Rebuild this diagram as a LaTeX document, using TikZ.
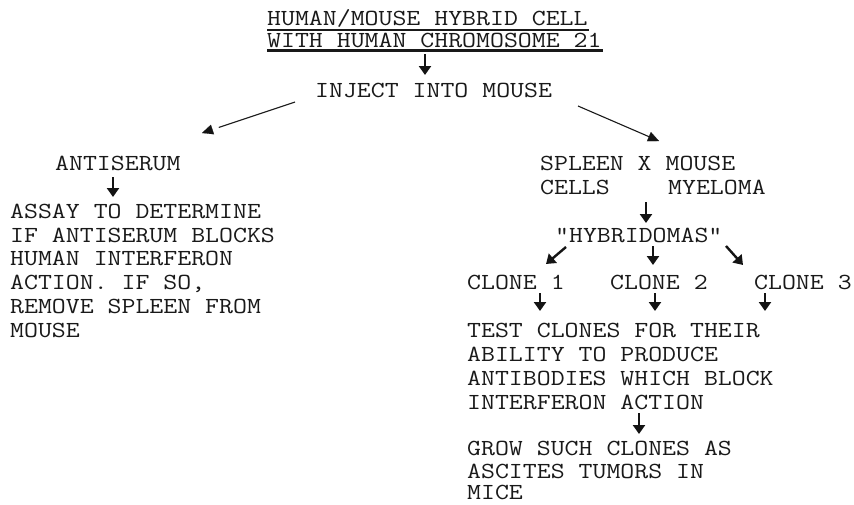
\documentclass[tikz,border=0pt]{standalone}
\usepackage{fontspec}
\newfontfamily\twfont{Latin Modern Mono}[FakeStretch=1.176]
\usetikzlibrary{arrows.meta,calc}
\tikzset{
  txt/.style={anchor=base west, inner sep=0pt, font=\twfont\fontsize{23}{23.9}\selectfont, text=black!90},
  sarr/.style={line width=2.4pt, -{Triangle[length=9pt,width=12pt]}, black!92},
  lline/.style={line width=1.1pt, black!90},
  lhead/.style={line width=0.1pt, -{Triangle[length=11pt,width=10pt]}, black!92},
  uline/.style={line width=3pt, black!90}
}
\begin{document}
\begin{tikzpicture}[x=1pt,y=-1pt]
\useasboundingbox[fill=white] (0,0) rectangle (854,504);
% title
\node[txt] (t1) at (267,25.5) {HUMAN/MOUSE HYBRID CELL};
\node[txt] (t2) at (267,47) {WITH HUMAN CHROMOSOME 21};
\draw[uline, line width=2.6pt] ($(t1.base west)+(0,4.5)$) -- ($(t1.base east)+(1,4.5)$);
\draw[uline, line width=3.6pt] ($(t2.base west)+(0,3.5)$) -- ($(t2.base east)+(1,3.5)$);
\coordinate (a0s) at (425,54);
\coordinate (a0e) at (425,75);
\draw[sarr] (a0s) -- (a0e);
\node[txt] (inj) at (315,97) {INJECT INTO MOUSE};
% diagonal arrows
\coordinate (ls) at (295,102);
\coordinate (le) at (202,133);
\draw[lline] (ls) -- ($(ls)!0.82!(le)$);
\draw[lhead] ($(ls)!0.9!(le)$) -- (le);
\coordinate (rs) at (578,106);
\coordinate (re) at (659,141);
\draw[lline] (rs) -- ($(rs)!0.9!(re)$);
\draw[lhead] ($(rs)!0.88!(re)$) -- (re);
% left branch
\node[txt] (anti) at (55,170) {ANTISERUM};
\coordinate (a1s) at (113,177);
\coordinate (a1e) at (113,197);
\draw[sarr] (a1s) -- (a1e);
\node[txt] (l1) at (10,218) {ASSAY TO DETERMINE};
\node[txt] (l2) at (10,242) {IF ANTISERUM BLOCKS};
\node[txt] (l3) at (10,265.5) {HUMAN INTERFERON};
\node[txt] (l4) at (10,289.5) {ACTION. IF SO,};
\node[txt] (l5) at (10,313.5) {REMOVE SPLEEN FROM};
\node[txt] (l6) at (10,337.5) {MOUSE};
% right branch
\node[txt] (sp) at (540,170) {SPLEEN X MOUSE};
\node[txt] (ce) at (540,194) {CELLS};
\node[txt] (my) at (668,194) {MYELOMA};
\coordinate (a2s) at (646,202);
\coordinate (a2e) at (646,223);
\draw[sarr] (a2s) -- (a2e);
\node[txt] (hy) at (555,242) {"HYBRIDOMAS"};
\coordinate (h1s) at (566,247);
\coordinate (h1e) at (546,264);
\coordinate (h2s) at (653,246);
\coordinate (h2e) at (653,265);
\coordinate (h3s) at (726,246);
\coordinate (h3e) at (743,265);
\draw[sarr] (h1s) -- (h1e);
\draw[sarr] (h2s) -- (h2e);
\draw[sarr] (h3s) -- (h3e);
\node[txt] (c1) at (467,289.5) {CLONE 1};
\node[txt] (c2) at (610,289.5) {CLONE 2};
\node[txt] (c3) at (754,289.5) {CLONE 3};
\coordinate (k1s) at (540,293);
\coordinate (k1e) at (540,311);
\coordinate (k2s) at (655,293);
\coordinate (k2e) at (655,311);
\coordinate (k3s) at (765,293);
\coordinate (k3e) at (765,311);
\draw[sarr] (k1s) -- (k1e);
\draw[sarr] (k2s) -- (k2e);
\draw[sarr] (k3s) -- (k3e);
\node[txt] (r1) at (467,337.5) {TEST CLONES FOR THEIR};
\node[txt] (r2) at (467,361) {ABILITY TO PRODUCE};
\node[txt] (r3) at (467,385) {ANTIBODIES WHICH BLOCK};
\node[txt] (r4) at (467,409) {INTERFERON ACTION};
\coordinate (a3s) at (639,413);
\coordinate (a3e) at (639,434);
\draw[sarr] (a3s) -- (a3e);
\node[txt] (g1) at (467,455.5) {GROW SUCH CLONES AS};
\node[txt] (g2) at (467,478) {ASCITES TUMORS IN};
\node[txt] (g3) at (467,499.5) {MICE};
\end{tikzpicture}
\end{document}
